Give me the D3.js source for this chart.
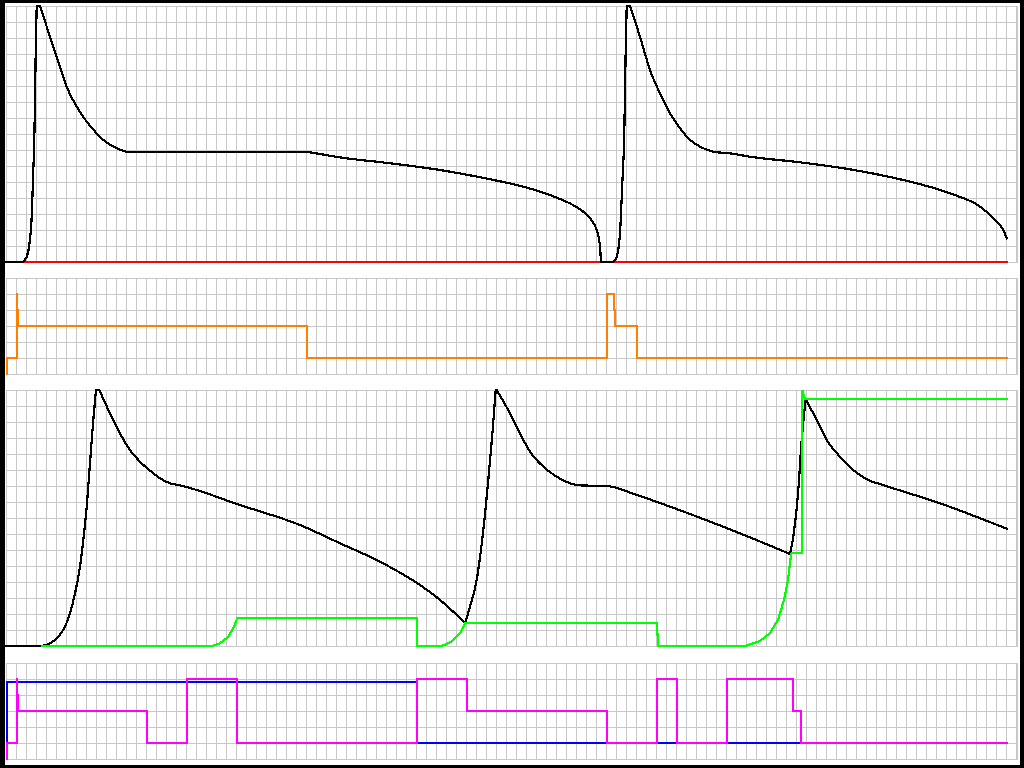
<!DOCTYPE html>
<html><head><meta charset="utf-8">
<script src="https://cdn.jsdelivr.net/npm/d3@7"></script>
<style>html,body{margin:0;padding:0;background:#fff;}svg{display:block;}</style>
</head><body>
<script>
// time axis: grid units (0..101), values in grid units per panel
const xTicks = d3.range(0, 102);

const panel1Black = [[0,0],[1.67,0],[2.07,0.33],[2.33,1.06],[2.57,2.83],[2.73,5.75],[2.83,7.63],[2.9,10.13],[2.97,13.14],[3.07,16],[3.4,16],[4.4,14.08],[5.4,12.21],[6.07,10.96],[7.07,9.71],[8.07,8.77],[9.07,8.04],[10.07,7.46],[11.07,7.11],[12.0,6.89],[30.07,6.89],[31.4,6.75],[33.4,6.54],[38.4,6.17],[43.4,5.75],[48.4,5.17],[51.73,4.71],[55.07,4.02],[57.07,3.42],[58.4,2.73],[59.07,2.0],[59.4,0.96],[59.5,0],[60.73,0],[61.07,0.33],[61.4,1.79],[61.63,4.92],[61.83,8.04],[61.97,13.25],[62.07,16],[62.4,16],[63.4,14.08],[64.4,12.0],[65.4,10.54],[66.4,9.29],[67.4,8.36],[68.4,7.63],[69.4,7.21],[70.73,6.89],[72.4,6.79],[74.4,6.58],[79.4,6.23],[84.4,5.79],[89.4,5.17],[94.4,4.29],[97.4,3.46],[98.73,2.73],[99.73,2.0],[100.07,1.48]];
const panel1Red = [[1.67,0],[100.07,0]];

const panel2Orange = [[0.07,0],[0.07,1],[1.07,1],[1.07,5],[1.1,5],[1.1,4],[1.17,4],[1.17,3],[30.07,3],[30.07,1],[60.07,1],[60.07,5],[60.8,5],[60.8,4],[60.9,4],[60.9,3],[63.13,3],[63.13,1],[100.07,1]];

const panel3Black = [[0,0],[3.57,0],[4.4,0.17],[5.23,0.58],[5.9,1.21],[6.4,2.04],[6.9,3.29],[7.4,4.96],[7.73,6.63],[8.07,8.71],[8.4,11.42],[8.73,14.13],[9.0,16],[9.33,16],[10.4,14.54],[11.4,13.29],[12.4,12.25],[13.4,11.52],[14.4,10.96],[15.4,10.48],[16.4,10.17],[17.4,10.04],[23.4,8.81],[29.4,7.56],[33.4,6.42],[37.4,5.27],[41.4,3.81],[43.4,2.88],[44.73,2.14],[45.9,1.42],[46.4,2.46],[47.07,4.13],[47.73,7.25],[48.23,10.38],[48.67,13.5],[48.97,16],[49.07,16],[50.4,14.54],[51.4,13.29],[52.4,12.14],[53.73,11.21],[55.07,10.58],[56.4,10.17],[57.4,10.04],[60.07,10],[63.07,9.44],[66.4,8.71],[73.4,7.04],[78.4,5.75],[78.73,6.83],[79.23,9.75],[79.57,12.88],[79.97,15.42],[81.07,14.13],[82.07,12.88],[83.4,11.83],[84.73,11.0],[86.07,10.42],[87.73,10.06],[93.4,8.92],[100.07,7.33]];
const panel3Green = [[3.57,0],[20.57,0],[21.4,0.17],[22.23,0.58],[22.73,1.11],[23.13,1.75],[41.13,1.75],[41.13,0],[43.57,0],[44.57,0.27],[45.4,0.79],[45.9,1.42],[65.07,1.42],[65.23,0],[73.9,0],[75.4,0.31],[76.4,0.81],[77.2,1.63],[77.8,2.88],[78.2,4.13],[78.5,5.69],[78.57,5.83],[79.63,5.83],[79.63,16],[79.9,15.44],[100.07,15.44]];

const panel4Blue = [[0.07,1],[0.07,4.8],[41.1,4.8],[41.1,1],[79.5,1]];
const panel4Magenta = [[0.07,0],[0.07,1],[1.07,1],[1.07,5],[1.1,5],[1.1,4],[1.17,4],[1.17,3],[14.07,3],[14.07,1],[18.07,1],[18.07,5],[23.07,5],[23.07,1],[41.1,1],[41.1,5],[46.07,5],[46.07,3],[60.07,3],[60.07,1],[65.07,1],[65.07,5],[67.07,5],[67.07,1],[72.07,1],[72.07,5],[78.7,5],[78.7,3],[79.5,3],[79.5,1],[100.1,1]];

const W = 1024, H = 768;
const svg = d3.select("body").append("svg").attr("width", W).attr("height", H);
svg.append("rect").attr("width", W).attr("height", H).attr("fill", "#000");
svg.append("rect").attr("x", 5).attr("y", 3).attr("width", 1015).attr("height", 762).attr("fill", "#fff");

const x = d3.scaleLinear().domain([0, 101]).range([6, 1016]);

// split a series at turning points (slope sign changes) so smooth curves keep sharp corners
function splitAtCorners(pts) {
  const segs = [];
  let cur = [pts[0]];
  const sgn = v => (v > 1e-9 ? 1 : v < -1e-9 ? -1 : 0);
  for (let i = 1; i < pts.length; i++) {
    cur.push(pts[i]);
    if (i < pts.length - 1) {
      const a = sgn(pts[i][1] - pts[i - 1][1]);
      const b = sgn(pts[i + 1][1] - pts[i][1]);
      const corner = (a !== b) && !(a === 0 && b !== 0 && pts[i][1] === 0 && false);
      if (a !== b && !(a === 0 && pts[i][1] === 0) ) { segs.push(cur); cur = [pts[i]]; }
      else if (a === 0 && b !== 0 && pts[i][1] !== 0) { segs.push(cur); cur = [pts[i]]; }
      else if (a !== b && a === 0 && pts[i][1] === 0) { segs.push(cur); cur = [pts[i]]; }
    }
  }
  segs.push(cur);
  return segs;
}

const panels = [
  {top: 6, rows: 16, series: [{d: panel1Red, c: "#ff0000", smooth: false}, {d: panel1Black, c: "#000", smooth: true}]},
  {top: 278, rows: 6, series: [{d: panel2Orange, c: "#ff8000", smooth: false}]},
  {top: 390, rows: 16, series: [{d: panel3Black, c: "#000", smooth: true}, {d: panel3Green, c: "#00ff00", smooth: false}]},
  {top: 663, rows: 6, series: [{d: panel4Blue, c: "#0000ff", smooth: false}, {d: panel4Magenta, c: "#ff00ff", smooth: false}]}
];

panels.forEach(p => {
  const h = p.rows * 16;
  const y = d3.scaleLinear().domain([0, p.rows]).range([p.top + h, p.top]);
  const g = svg.append("g");
  g.selectAll("line.v").data(xTicks).join("line")
    .attr("x1", d => Math.round(x(d)) + 0.5).attr("x2", d => Math.round(x(d)) + 0.5)
    .attr("y1", p.top).attr("y2", p.top + h + 1)
    .attr("stroke", "#c8c8c8").attr("stroke-width", 1);
  g.selectAll("line.h").data(d3.range(0, p.rows + 1)).join("line")
    .attr("x1", x(0)).attr("x2", x(101) + 1)
    .attr("y1", d => Math.round(y(d)) + 0.5).attr("y2", d => Math.round(y(d)) + 0.5)
    .attr("stroke", "#c8c8c8").attr("stroke-width", 1);
  g.append("line").attr("x1", x(101) + 1.5).attr("x2", x(101) + 1.5)
    .attr("y1", p.top).attr("y2", p.top + h + 1)
    .attr("stroke", "#c8c8c8");
  p.series.forEach(s => {
    let d;
    if (s.smooth) {
      const line = d3.line().x(v => x(v[0])).y(v => y(v[1])).curve(d3.curveMonotoneX);
      d = splitAtCorners(s.d).map(seg => line(seg)).join("");
    } else {
      d = d3.line().x(v => x(v[0])).y(v => y(v[1]))(s.d);
    }
    g.append("path").attr("d", d).attr("fill", "none")
      .attr("stroke", s.c).attr("stroke-width", 2.2).attr("stroke-linejoin", "miter")
      .attr("stroke-linecap", "square")
      .attr("shape-rendering", "crispEdges");
  });
});
</script>
</body></html>
